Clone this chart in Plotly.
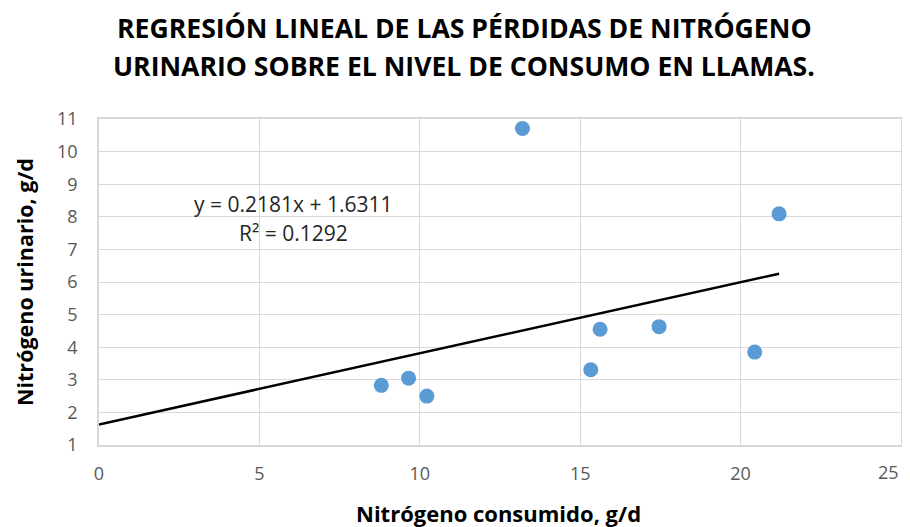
import plotly.graph_objects as go

# Data
consumido = [8.8, 9.65, 10.22, 13.2, 15.33, 15.62, 17.46, 20.44, 21.2]
urinario = [2.83, 3.05, 2.5, 10.71, 3.31, 4.55, 4.63, 3.85, 8.09]
slope = 0.2181
intercept = 1.6311
r2 = 0.1292
x_ticks = [0, 5, 10, 15, 20, 25]
y_ticks = [1, 2, 3, 4, 5, 6, 7, 8, 9, 10, 11]
title_lines = ["REGRESIÓN LINEAL DE LAS PÉRDIDAS DE NITRÓGENO",
               "URINARIO SOBRE EL NIVEL DE CONSUMO EN LLAMAS."]

trend_x = [0, max(consumido)]
trend_y = [intercept + slope * v for v in trend_x]

FONT = "Open Sans"
OFF = 8  # page body margin offset
W, H = 910 - OFF, 527 - OFF
L, T = 99 - OFF, 119 - OFF
R = W - (901 - OFF)
B = H - (445 - OFF)
PW, PH = W - L - R, H - T - B


def px_x(p):
    return (p - OFF - L) / PW


def px_y(p):
    return (H - B - (p - OFF)) / PH


fig = go.Figure()
fig.add_trace(go.Scatter(x=trend_x, y=trend_y, mode="lines",
                         line=dict(color="black", width=2.5), showlegend=False, hoverinfo="skip"))
fig.add_trace(go.Scatter(x=consumido, y=urinario, mode="markers",
                         marker=dict(color="#5B9BD5", size=15), showlegend=False))

# trendline label
fig.add_annotation(x=6.05, y=8.39, xref="x", yref="y", showarrow=False,
                   text=f"y = {slope}x + {intercept}",
                   font=dict(family=FONT, size=21, color="#262626"))
fig.add_annotation(x=6.05, y=7.50, xref="x", yref="y", showarrow=False,
                   text=f"R² = {r2}",
                   font=dict(family=FONT, size=21, color="#262626"))

# title (two lines)
for txt, py in zip(title_lines, [28, 66]):
    fig.add_annotation(x=px_x(464), y=px_y(py), xref="paper", yref="paper", showarrow=False,
                       xanchor="center", yanchor="middle", text=f"<b>{txt}</b>",
                       font=dict(family=FONT, size=26.6, color="black"))

# axis titles
fig.add_annotation(x=px_x(498), y=px_y(513), xref="paper", yref="paper", showarrow=False,
                   xanchor="center", yanchor="middle", text="<b>Nitrógeno consumido, g/d</b>",
                   font=dict(family=FONT, size=22, color="black"))
fig.add_annotation(x=px_x(24), y=px_y(282), xref="paper", yref="paper", showarrow=False,
                   xanchor="center", yanchor="middle", textangle=-90,
                   text="<b>Nitrógeno urinario, g/d</b>",
                   font=dict(family=FONT, size=21.5, color="black"))

# last x tick label drawn right-aligned so it stays inside the page
x_ticktext = [str(v) for v in x_ticks[:-1]] + [""]
fig.add_annotation(x=x_ticks[-1], y=px_y(472), xref="x", yref="paper", showarrow=False,
                   xanchor="right", yanchor="middle", text=str(x_ticks[-1]),
                   font=dict(family=FONT, size=18, color="#595959"))

fig.update_layout(
    width=W, height=H,
    margin=dict(l=L, r=R, t=T, b=B, autoexpand=False),
    paper_bgcolor="white", plot_bgcolor="white",
    font=dict(family=FONT),
)
fig.update_xaxes(range=[0, 25], tickvals=x_ticks, ticktext=x_ticktext,
                 showgrid=True, gridcolor="#D9D9D9", gridwidth=1,
                 zeroline=False, showline=True, linecolor="#D9D9D9", linewidth=1.5, mirror=True,
                 ticks="", ticklabelstandoff=12, automargin=False,
                 tickfont=dict(family=FONT, size=18, color="#595959"))
fig.update_yaxes(range=[1, 11], tickvals=y_ticks, showgrid=True, gridcolor="#D9D9D9", gridwidth=1,
                 zeroline=False, showline=True, linecolor="#D9D9D9", linewidth=1.5, mirror=True,
                 ticks="", ticklabelstandoff=16, automargin=False,
                 tickfont=dict(family=FONT, size=18, color="#595959"))

fig.write_html("out.html")
